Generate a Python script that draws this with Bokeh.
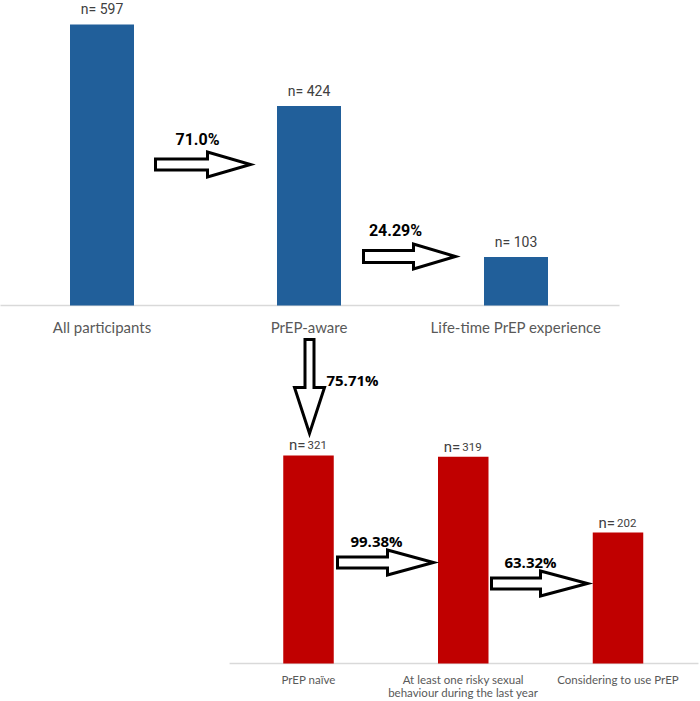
from bokeh.plotting import figure
from bokeh.models import Range1d
from bokeh.core.properties import value
from bokeh.embed import file_html
from bokeh.resources import INLINE

# ---------------- data ----------------
top_categories = ["All participants", "PrEP-aware", "Life-time PrEP experience"]
top_counts = [597, 424, 103]
top_labels = ["n= 597", "n= 424", "n= 103"]

bottom_categories = ["PrEP naïve",
                     "At least one risky sexual\nbehaviour during the last year",
                     "Considering to use PrEP"]
bottom_counts = [321, 319, 202]
bottom_nums = ["321", "319", "202"]

top_pcts = ["71.0%", "24.29%"]
down_pct = ["75.71%"]
bottom_pcts = ["99.38%", "63.32%"]

# ---------------- layout (pixels) ----------------
W, H = 700, 701
BLUE = "#215F9A"
RED = "#C00000"
GRID = "#D9D9D9"
LABEL = "#595959"

# top panel: index -> px, value -> px
T_X0, T_DX = 101.5, 207.0
T_Y0, T_K = 305.0, 0.4707
# bottom panel
B_X0, B_DX = 308.0, 154.75
B_Y0, B_K = 663.0, 0.648

p = figure(width=W, height=H, output_backend="svg", toolbar_location=None,
           x_range=Range1d(0, W), y_range=Range1d(H, 0),
           x_axis_location=None, y_axis_location=None, min_border=0)
p.outline_line_color = None
p.grid.visible = False
p.background_fill_color = "white"
p.border_fill_color = "white"

p.extra_x_ranges = {
    "tx": Range1d(-T_X0 / T_DX, (W - T_X0) / T_DX),
    "bx": Range1d(-B_X0 / B_DX, (W - B_X0) / B_DX),
}
p.extra_y_ranges = {
    "ty": Range1d((T_Y0 - H) / T_K, T_Y0 / T_K),
    "by": Range1d((B_Y0 - H) / B_K, B_Y0 / B_K),
}

idx = [0, 1, 2]

# baselines
p.segment(x0=[-0.5], x1=[2.5], y0=[0], y1=[0], line_color=GRID, line_width=1.3,
          x_range_name="tx", y_range_name="ty")
p.segment(x0=[-0.51], x1=[2.52], y0=[0], y1=[0], line_color=GRID, line_width=1.3,
          x_range_name="bx", y_range_name="by")

# bars
p.vbar(x=idx, top=top_counts, bottom=0, width=64 / T_DX, fill_color=BLUE, line_color=None,
       x_range_name="tx", y_range_name="ty")
p.vbar(x=idx, top=bottom_counts, bottom=0, width=50.5 / B_DX, fill_color=RED, line_color=None,
       x_range_name="bx", y_range_name="by")

# n labels (top)
p.text(x=idx, y=top_counts, text=top_labels, x_range_name="tx", y_range_name="ty",
       y_offset=-15, text_align="center", text_baseline="middle",
       text_font=value("Roboto"), text_font_size="14px", text_color="#404040")

# n labels (bottom): "n=" bigger, number smaller, shared baseline
p.text(x=idx, y=bottom_counts, text=["n="] * 3, x_range_name="bx", y_range_name="by",
       y_offset=-10, x_offset=-3, text_align="right", text_baseline="alphabetic",
       text_font=value("Roboto"), text_font_size="15px", text_color="#404040")
p.text(x=idx, y=bottom_counts, text=bottom_nums, x_range_name="bx", y_range_name="by",
       y_offset=-10, x_offset=-1, text_align="left", text_baseline="alphabetic",
       text_font=value("Roboto"), text_font_size="11.5px", text_color="#404040")

# category labels
p.text(x=idx, y=[326] * 3, text=top_categories, x_range_name="tx",
       text_align="center", text_baseline="middle",
       text_font=value("Lato"), text_font_size="15px", text_color=LABEL)

first_lines = [c.split("\n")[0] for c in bottom_categories]
second_idx = [i for i, c in zip(idx, bottom_categories) if "\n" in c]
second_lines = [c.split("\n")[1] for c in bottom_categories if "\n" in c]
p.text(x=idx, y=[679] * 3, text=first_lines, x_range_name="bx",
       text_align="center", text_baseline="middle",
       text_font=value("Lato"), text_font_size="11.5px", text_color=LABEL)
p.text(x=second_idx, y=[692] * len(second_idx), text=second_lines, x_range_name="bx",
       text_align="center", text_baseline="middle",
       text_font=value("Lato"), text_font_size="11.5px", text_color=LABEL)


# arrows (block arrows, outlined)
def harrow(x0, x1, yc, hs, hh, hb):
    return ([x0, hb, hb, x1, hb, hb, x0],
            [yc - hs, yc - hs, yc - hh, yc, yc + hh, yc + hs, yc + hs])


def varrow(y0, y1, xc, hs, hh, hb):
    return ([xc - hs, xc - hs, xc - hh, xc, xc + hh, xc + hs, xc + hs],
            [y0, hb, hb, y1, hb, hb, y0])


arrows = [
    harrow(155, 250, 164, 5.5, 12.5, 207),
    harrow(363, 455, 256, 6.0, 12.5, 413),
    varrow(339, 433, 309, 4.5, 15, 387),
    harrow(337, 433, 562, 5.5, 12.5, 387),
    harrow(491, 587, 583, 5.5, 12.5, 540),
]
p.patches(xs=[a[0] for a in arrows], ys=[a[1] for a in arrows],
          fill_color="white", line_color="black", line_width=3, line_join="miter")

# percentage labels
p.text(x=[197, 395], y=[139, 230], text=top_pcts, text_align="center", text_baseline="middle",
       text_font=value("Roboto"), text_font_style="bold", text_font_size="16px",
       text_color="black")
p.text(x=[352], y=[379], text=down_pct, text_align="center", text_baseline="middle",
       text_font=value("Open Sans"), text_font_style="bold", text_font_size="15px",
       text_color="black")
p.text(x=[376, 530], y=[540, 561], text=bottom_pcts, text_align="center", text_baseline="middle",
       text_font=value("Open Sans"), text_font_style="bold", text_font_size="15px",
       text_color="black")

open("out.html", "w").write(file_html(p, INLINE))
